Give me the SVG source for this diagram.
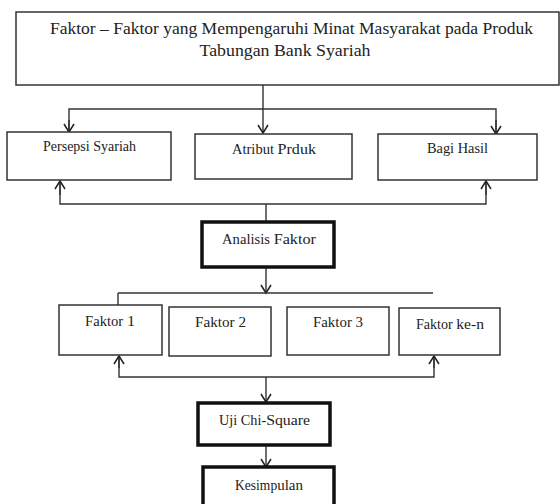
<svg xmlns="http://www.w3.org/2000/svg" width="560" height="504" viewBox="0 0 560 504">
<defs>
<style>
.box{fill:#fff;stroke:#333;stroke-width:1.5}
.thick{fill:#fff;stroke:#111;stroke-width:3.5}
.c{fill:none;stroke:#333;stroke-width:1.4}
</style>
<marker id="arr" markerUnits="userSpaceOnUse" markerWidth="12" markerHeight="14" viewBox="-10 -7 12 14" refX="0" refY="0" orient="auto">
<path d="M-8,-5 L0,0 L-8,5" fill="none" stroke="#222" stroke-width="1.5"/>
</marker>
</defs>
<rect width="560" height="504" fill="#fff"/>
<g id="connectors">
<line class="c" x1="263" y1="85" x2="263" y2="133" marker-end="url(#arr)"/>
<polyline class="c" points="69,133 69,109 496,109 496,134"/>
<line class="c" x1="69" y1="120" x2="69" y2="132" marker-end="url(#arr)"/>
<line class="c" x1="496" y1="120" x2="496" y2="134" marker-end="url(#arr)"/>
<polyline class="c" points="60,181 60,204 486,204 486,181"/>
<line class="c" x1="60" y1="195" x2="60" y2="181" marker-end="url(#arr)"/>
<line class="c" x1="486" y1="195" x2="486" y2="181" marker-end="url(#arr)"/>
<line class="c" x1="266" y1="204" x2="266" y2="222"/>
<line class="c" x1="266" y1="267" x2="266" y2="293" marker-end="url(#arr)"/>
<line class="c" x1="118" y1="293" x2="433" y2="293"/>
<line class="c" x1="118" y1="293" x2="118" y2="319"/>
<polyline class="c" points="119,356 119,377 434,377 434,356"/>
<line class="c" x1="119" y1="368" x2="119" y2="356" marker-end="url(#arr)"/>
<line class="c" x1="434" y1="368" x2="434" y2="356" marker-end="url(#arr)"/>
<line class="c" x1="266" y1="377" x2="266" y2="402" marker-end="url(#arr)"/>
<line class="c" x1="266" y1="446" x2="266" y2="467" marker-end="url(#arr)"/>
</g>
<g font-family="Liberation Serif, DejaVu Serif, serif" font-size="14" fill="#222" text-anchor="middle">
<g id="n-title">
<rect class="box" x="16" y="12" width="543" height="73"/>
<text x="291.5" y="34" font-size="17.5" textLength="483" lengthAdjust="spacingAndGlyphs">Faktor – Faktor yang Mempengaruhi Minat Masyarakat pada Produk</text>
<text x="285" y="56" font-size="17.5" textLength="171" lengthAdjust="spacingAndGlyphs">Tabungan Bank Syariah</text>
</g>
<g id="n-persepsi">
<rect class="box" x="7" y="132" width="164" height="48"/>
<text x="89.5" y="151" textLength="93" lengthAdjust="spacingAndGlyphs">Persepsi Syariah</text>
</g>
<g id="n-atribut">
<rect class="box" x="195" y="134" width="157" height="45"/>
<text x="274" y="154" textLength="84" lengthAdjust="spacingAndGlyphs">Atribut <tspan font-size="15.5">Prduk</tspan></text>
</g>
<g id="n-bagi">
<rect class="box" x="378" y="134" width="159" height="46"/>
<text x="457.5" y="153" textLength="61" lengthAdjust="spacingAndGlyphs">Bagi Hasil</text>
</g>
<g id="n-analisis">
<rect class="thick" x="202" y="222" width="132" height="45"/>
<text x="269" y="244" textLength="94" lengthAdjust="spacingAndGlyphs">Analisis <tspan font-size="15.5">Faktor</tspan></text>
</g>
<g id="n-f1">
<rect class="box" x="59" y="305" width="103" height="50"/>
<text x="110" y="326" textLength="50" lengthAdjust="spacingAndGlyphs">Faktor <tspan font-size="15.5">1</tspan></text>
</g>
<g id="n-f2">
<rect class="box" x="169" y="307" width="102" height="49"/>
<text x="220.5" y="327" textLength="51" lengthAdjust="spacingAndGlyphs">Faktor 2</text>
</g>
<g id="n-f3">
<rect class="box" x="287" y="307" width="102" height="48"/>
<text x="338" y="327" textLength="50" lengthAdjust="spacingAndGlyphs">Faktor 3</text>
</g>
<g id="n-fn">
<rect class="box" x="399" y="308" width="101" height="47"/>
<text x="450" y="329" textLength="68" lengthAdjust="spacingAndGlyphs">Faktor <tspan font-size="15.5">ke-n</tspan></text>
</g>
<g id="n-uji">
<rect class="thick" x="198" y="403" width="132" height="42"/>
<text x="264.5" y="425" textLength="91" lengthAdjust="spacingAndGlyphs">Uji Chi-<tspan font-size="15.5">Square</tspan></text>
</g>
<g id="n-kesimpulan">
<rect class="thick" x="203" y="467" width="131" height="45"/>
<text x="269" y="490" textLength="68" lengthAdjust="spacingAndGlyphs">Kesimp<tspan font-size="15.5">ulan</tspan></text>
</g>
</g>
</svg>
